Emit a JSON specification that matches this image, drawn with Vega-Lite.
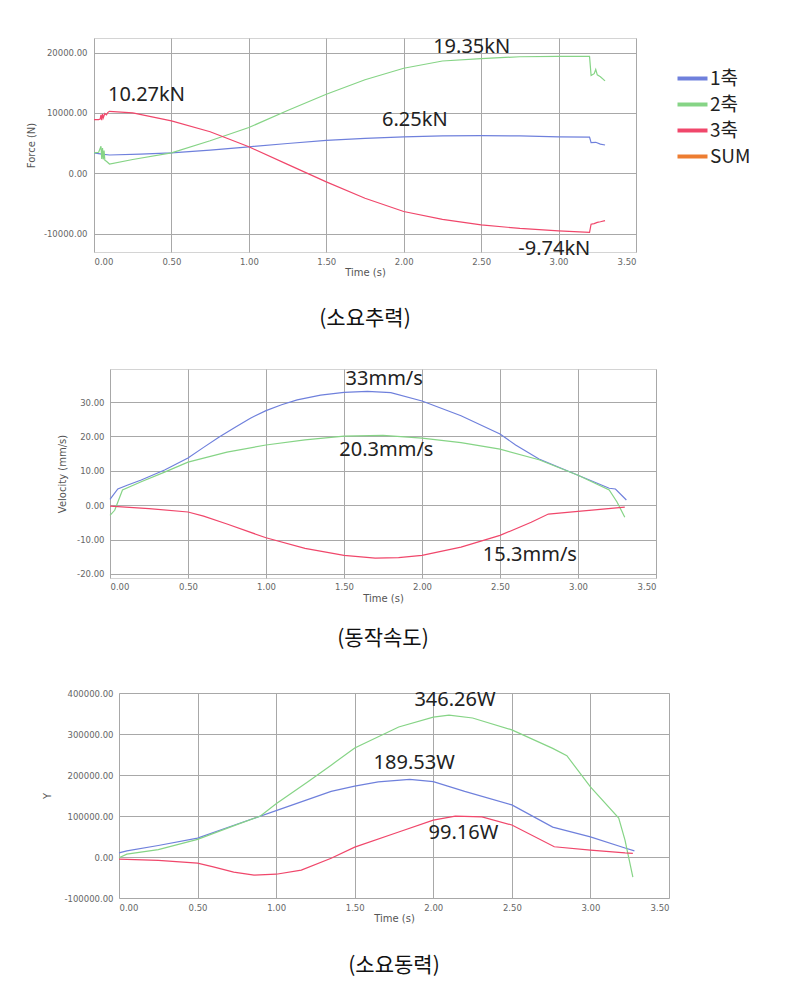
{
  "$schema": "https://vega.github.io/schema/vega-lite/v6.json",
  "background": "white",
  "padding": {"left": 0, "top": 36, "right": 0, "bottom": 0},
  "datasets": {
    "force": [
      {"t":0,"v":3400,"s":"1축"},{"t":0.05,"v":3200,"s":"1축"},{"t":0.1,"v":3050,"s":"1축"},{"t":0.3,"v":3200,"s":"1축"},{"t":0.5,"v":3400,"s":"1축"},{"t":0.75,"v":3850,"s":"1축"},{"t":1.0,"v":4400,"s":"1축"},{"t":1.25,"v":4950,"s":"1축"},{"t":1.5,"v":5450,"s":"1축"},{"t":1.75,"v":5800,"s":"1축"},{"t":2.0,"v":6050,"s":"1축"},{"t":2.25,"v":6200,"s":"1축"},{"t":2.5,"v":6250,"s":"1축"},{"t":2.75,"v":6200,"s":"1축"},{"t":3.0,"v":6050,"s":"1축"},{"t":3.2,"v":6000,"s":"1축"},{"t":3.21,"v":5100,"s":"1축"},{"t":3.24,"v":5150,"s":"1축"},{"t":3.27,"v":4850,"s":"1축"},{"t":3.3,"v":4700,"s":"1축"},
      {"t":0,"v":3400,"s":"2축"},{"t":0.03,"v":3500,"s":"2축"},{"t":0.045,"v":4500,"s":"2축"},{"t":0.05,"v":2400,"s":"2축"},{"t":0.055,"v":4200,"s":"2축"},{"t":0.06,"v":2300,"s":"2축"},{"t":0.065,"v":3800,"s":"2축"},{"t":0.07,"v":2200,"s":"2축"},{"t":0.08,"v":2000,"s":"2축"},{"t":0.1,"v":1550,"s":"2축"},{"t":0.25,"v":2300,"s":"2축"},{"t":0.5,"v":3400,"s":"2축"},{"t":0.75,"v":5400,"s":"2축"},{"t":1.0,"v":7600,"s":"2축"},{"t":1.25,"v":10400,"s":"2축"},{"t":1.5,"v":13100,"s":"2축"},{"t":1.75,"v":15500,"s":"2축"},{"t":2.0,"v":17400,"s":"2축"},{"t":2.25,"v":18600,"s":"2축"},{"t":2.5,"v":19000,"s":"2축"},{"t":2.75,"v":19300,"s":"2축"},{"t":3.0,"v":19350,"s":"2축"},{"t":3.2,"v":19350,"s":"2축"},{"t":3.21,"v":16200,"s":"2축"},{"t":3.23,"v":16500,"s":"2축"},{"t":3.24,"v":17200,"s":"2축"},{"t":3.25,"v":16300,"s":"2축"},{"t":3.27,"v":16000,"s":"2축"},{"t":3.3,"v":15300,"s":"2축"},
      {"t":0,"v":8900,"s":"3축"},{"t":0.03,"v":8900,"s":"3축"},{"t":0.04,"v":9000,"s":"3축"},{"t":0.045,"v":9700,"s":"3축"},{"t":0.05,"v":8800,"s":"3축"},{"t":0.055,"v":9800,"s":"3축"},{"t":0.06,"v":9200,"s":"3축"},{"t":0.07,"v":9900,"s":"3축"},{"t":0.08,"v":9700,"s":"3축"},{"t":0.09,"v":10100,"s":"3축"},{"t":0.1,"v":10270,"s":"3축"},{"t":0.25,"v":10000,"s":"3축"},{"t":0.5,"v":8700,"s":"3축"},{"t":0.75,"v":6900,"s":"3축"},{"t":1.0,"v":4400,"s":"3축"},{"t":1.25,"v":1500,"s":"3축"},{"t":1.5,"v":-1400,"s":"3축"},{"t":1.75,"v":-4100,"s":"3축"},{"t":2.0,"v":-6300,"s":"3축"},{"t":2.25,"v":-7600,"s":"3축"},{"t":2.5,"v":-8500,"s":"3축"},{"t":2.75,"v":-9100,"s":"3축"},{"t":3.0,"v":-9500,"s":"3축"},{"t":3.2,"v":-9740,"s":"3축"},{"t":3.21,"v":-8400,"s":"3축"},{"t":3.23,"v":-8300,"s":"3축"},{"t":3.25,"v":-8100,"s":"3축"},{"t":3.27,"v":-8000,"s":"3축"},{"t":3.3,"v":-7800,"s":"3축"}
    ],
    "forceLabels": [
      {"t":0.09,"v":12950,"label":"10.27kN"},{"t":2.19,"v":20870,"label":"19.35kN"},{"t":1.86,"v":8830,"label":"6.25kN"},{"t":2.74,"v":-12460,"label":"-9.74kN"}
    ],
    "vel": [
      {"t":0,"v":1.7,"s":"1축"},{"t":0.05,"v":4.7,"s":"1축"},{"t":0.11,"v":5.8,"s":"1축"},{"t":0.2,"v":7.3,"s":"1축"},{"t":0.35,"v":10.2,"s":"1축"},{"t":0.5,"v":13.7,"s":"1축"},{"t":0.6,"v":16.8,"s":"1축"},{"t":0.7,"v":19.8,"s":"1축"},{"t":0.8,"v":22.6,"s":"1축"},{"t":0.9,"v":25.3,"s":"1축"},{"t":1.0,"v":27.5,"s":"1축"},{"t":1.1,"v":29.2,"s":"1축"},{"t":1.2,"v":30.6,"s":"1축"},{"t":1.35,"v":32,"s":"1축"},{"t":1.5,"v":32.8,"s":"1축"},{"t":1.65,"v":33.1,"s":"1축"},{"t":1.8,"v":32.7,"s":"1축"},{"t":2.0,"v":30.3,"s":"1축"},{"t":2.25,"v":26,"s":"1축"},{"t":2.5,"v":20.7,"s":"1축"},{"t":2.6,"v":17.5,"s":"1축"},{"t":2.75,"v":13.4,"s":"1축"},{"t":3.0,"v":8.7,"s":"1축"},{"t":3.2,"v":4.9,"s":"1축"},{"t":3.24,"v":4.7,"s":"1축"},{"t":3.31,"v":1.5,"s":"1축"},
      {"t":0,"v":-3,"s":"2축"},{"t":0.03,"v":-1.5,"s":"2축"},{"t":0.08,"v":4.4,"s":"2축"},{"t":0.2,"v":6.8,"s":"2축"},{"t":0.35,"v":9.6,"s":"2축"},{"t":0.5,"v":12.5,"s":"2축"},{"t":0.75,"v":15.4,"s":"2축"},{"t":1.0,"v":17.5,"s":"2축"},{"t":1.25,"v":19,"s":"2축"},{"t":1.5,"v":20.1,"s":"2축"},{"t":1.75,"v":20.3,"s":"2축"},{"t":2.0,"v":19.5,"s":"2축"},{"t":2.25,"v":18.2,"s":"2축"},{"t":2.5,"v":16.3,"s":"2축"},{"t":2.75,"v":13.2,"s":"2축"},{"t":3.0,"v":8.7,"s":"2축"},{"t":3.2,"v":4.4,"s":"2축"},{"t":3.25,"v":0.9,"s":"2축"},{"t":3.3,"v":-3.5,"s":"2축"},
      {"t":0,"v":-0.3,"s":"3축"},{"t":0.25,"v":-1,"s":"3축"},{"t":0.5,"v":-2,"s":"3축"},{"t":0.6,"v":-3.2,"s":"3축"},{"t":0.75,"v":-5.5,"s":"3축"},{"t":1.0,"v":-9.5,"s":"3축"},{"t":1.25,"v":-12.6,"s":"3축"},{"t":1.5,"v":-14.6,"s":"3축"},{"t":1.7,"v":-15.4,"s":"3축"},{"t":1.85,"v":-15.3,"s":"3축"},{"t":2.0,"v":-14.6,"s":"3축"},{"t":2.25,"v":-12.2,"s":"3축"},{"t":2.5,"v":-8.8,"s":"3축"},{"t":2.7,"v":-5,"s":"3축"},{"t":2.81,"v":-2.6,"s":"3축"},{"t":3.0,"v":-1.8,"s":"3축"},{"t":3.3,"v":-0.6,"s":"3축"}
    ],
    "velLabels": [
      {"t":1.51,"v":36.7,"label":"33mm/s"},{"t":1.47,"v":16.0,"label":"20.3mm/s"},{"t":2.39,"v":-14.6,"label":"15.3mm/s"}
    ],
    "pow": [
      {"t":0,"v":10000,"s":"1축"},{"t":0.05,"v":15000,"s":"1축"},{"t":0.25,"v":28000,"s":"1축"},{"t":0.5,"v":46000,"s":"1축"},{"t":0.75,"v":80000,"s":"1축"},{"t":1.0,"v":113000,"s":"1축"},{"t":1.2,"v":140000,"s":"1축"},{"t":1.35,"v":160000,"s":"1축"},{"t":1.5,"v":173000,"s":"1축"},{"t":1.65,"v":183000,"s":"1축"},{"t":1.85,"v":189500,"s":"1축"},{"t":2.0,"v":184000,"s":"1축"},{"t":2.2,"v":160000,"s":"1축"},{"t":2.5,"v":127000,"s":"1축"},{"t":2.76,"v":73000,"s":"1축"},{"t":3.0,"v":49000,"s":"1축"},{"t":3.22,"v":22000,"s":"1축"},{"t":3.28,"v":15000,"s":"1축"},
      {"t":0,"v":-2000,"s":"2축"},{"t":0.05,"v":7000,"s":"2축"},{"t":0.25,"v":18000,"s":"2축"},{"t":0.5,"v":43000,"s":"2축"},{"t":0.75,"v":79000,"s":"2축"},{"t":0.9,"v":100000,"s":"2축"},{"t":1.0,"v":130000,"s":"2축"},{"t":1.2,"v":183000,"s":"2축"},{"t":1.35,"v":224000,"s":"2축"},{"t":1.5,"v":266000,"s":"2축"},{"t":1.78,"v":317000,"s":"2축"},{"t":2.0,"v":341000,"s":"2축"},{"t":2.1,"v":346000,"s":"2축"},{"t":2.25,"v":339000,"s":"2축"},{"t":2.5,"v":310000,"s":"2축"},{"t":2.76,"v":265000,"s":"2축"},{"t":2.85,"v":247000,"s":"2축"},{"t":3.0,"v":171000,"s":"2축"},{"t":3.18,"v":95000,"s":"2축"},{"t":3.22,"v":41000,"s":"2축"},{"t":3.27,"v":-49000,"s":"2축"},
      {"t":0,"v":-5000,"s":"3축"},{"t":0.25,"v":-8000,"s":"3축"},{"t":0.5,"v":-15000,"s":"3축"},{"t":0.6,"v":-24000,"s":"3축"},{"t":0.73,"v":-37000,"s":"3축"},{"t":0.86,"v":-44000,"s":"3축"},{"t":1.0,"v":-42000,"s":"3축"},{"t":1.16,"v":-32000,"s":"3축"},{"t":1.35,"v":-3000,"s":"3축"},{"t":1.5,"v":24000,"s":"3축"},{"t":1.78,"v":61000,"s":"3축"},{"t":2.0,"v":90000,"s":"3축"},{"t":2.14,"v":99500,"s":"3축"},{"t":2.31,"v":98000,"s":"3축"},{"t":2.5,"v":78000,"s":"3축"},{"t":2.77,"v":25000,"s":"3축"},{"t":3.0,"v":17000,"s":"3축"},{"t":3.22,"v":10000,"s":"3축"},{"t":3.27,"v":9000,"s":"3축"}
    ],
    "powLabels": [
      {"t":1.88,"v":383000,"label":"346.26W"},{"t":1.62,"v":229000,"label":"189.53W"},{"t":1.97,"v":58500,"label":"99.16W"}
    ]
  },
  "vconcat": [
    {
      "hconcat": [
        {"width": 25, "height": 1, "data": {"values": []}, "mark": {"type": "point", "opacity": 0}, "view": {"stroke": null}},
        {
          "width": 542, "height": 214,
          "title": {"text": "(소요추력)", "orient": "bottom", "anchor": "middle", "frame": "group", "offset": 30, "font": "Noto Sans CJK KR", "fontSize": 21, "fontWeight": "normal", "color": "#111"},
          "layer": [
            {
              "data": {"name": "force"},
              "mark": {"type": "line"},
              "encoding": {
                "x": {"field": "t", "type": "quantitative", "scale": {"domain": [0, 3.5], "nice": false}, "axis": {"title": "Time (s)", "values": [0,0.5,1,1.5,2,2.5,3,3.5], "format": ".2f", "labelPadding": 5, "titlePadding": 2}},
                "y": {"field": "v", "type": "quantitative", "scale": {"domain": [-13000, 22400], "nice": false, "zero": false}, "axis": {"title": "Force (N)", "values": [-10000,-5000,0,5000,10000,15000,20000], "labelExpr": "(datum.value < 0 ? '-' : '') + format(abs(datum.value), '.2f')", "labelPadding": 7, "titlePadding": 7}},
                "color": {"field": "s", "type": "nominal", "scale": {"domain": ["1축","2축","3축","SUM"], "range": ["#6f80dc","#86d486","#f0476b","#ed7d31"]},
                  "legend": {"orient": "none", "legendX": 589, "legendY": 31, "title": null, "symbolType": "M-3,0H3", "symbolSize": 100, "symbolStrokeWidth": 4, "labelFont": "Noto Sans CJK KR", "labelFontSize": 19, "labelColor": "#222", "labelOffset": 8, "rowPadding": 6,
                    "encode": {"symbols": {"update": {"stroke": {"signal": "datum.value === '1축' ? '#2e75b6' : datum.value === '2축' ? '#00b050' : datum.value === '3축' ? '#ff1a1a' : '#ed7d31'"}, "opacity": {"value": 1}}}}}},
                "strokeWidth": {"field": "s", "type": "nominal", "scale": {"domain": ["1축","2축","3축"], "range": [1.2, 1.2, 2]}, "legend": null}
              }
            },
            {
              "data": {"name": "forceLabels"},
              "mark": {"type": "text", "align": "left", "baseline": "middle", "font": "Noto Sans", "fontSize": 20, "color": "#222"},
              "encoding": {
                "x": {"field": "t", "type": "quantitative"},
                "y": {"field": "v", "type": "quantitative"},
                "text": {"field": "label"}
              }
            }
          ]
        }
      ],
      "spacing": 0, "align": "none",
      "resolve": {"scale": {"color": "independent", "strokeWidth": "independent", "x": "independent", "y": "independent"}}
    },
    {
      "hconcat": [
        {"width": 57, "height": 1, "data": {"values": []}, "mark": {"type": "point", "opacity": 0}, "view": {"stroke": null}},
        {
          "width": 546, "height": 209,
          "title": {"text": "(동작속도)", "orient": "bottom", "anchor": "middle", "frame": "group", "offset": 24, "font": "Noto Sans CJK KR", "fontSize": 21, "fontWeight": "normal", "color": "#111"},
          "layer": [
            {
              "data": {"name": "vel"},
              "mark": {"type": "line"},
              "encoding": {
                "x": {"field": "t", "type": "quantitative", "scale": {"domain": [0, 3.5], "nice": false}, "axis": {"title": "Time (s)", "values": [0,0.5,1,1.5,2,2.5,3,3.5], "format": ".2f", "labelPadding": 4, "titlePadding": 3}},
                "y": {"field": "v", "type": "quantitative", "scale": {"domain": [-21.2, 39.6], "nice": false, "zero": false}, "axis": {"title": "Velocity (mm/s)", "values": [-20,-10,0,10,20,30], "labelExpr": "(datum.value < 0 ? '-' : '') + format(abs(datum.value), '.2f')", "labelPadding": 6, "titlePadding": 9}},
                "color": {"field": "s", "type": "nominal", "scale": {"domain": ["1축","2축","3축"], "range": ["#6f80dc","#86d486","#f0476b"]}, "legend": null},
                "strokeWidth": {"field": "s", "type": "nominal", "scale": {"domain": ["1축","2축","3축"], "range": [1.2, 1.2, 2]}, "legend": null}
              }
            },
            {
              "data": {"name": "velLabels"},
              "mark": {"type": "text", "align": "left", "baseline": "middle", "font": "Noto Sans", "fontSize": 20, "color": "#222"},
              "encoding": {
                "x": {"field": "t", "type": "quantitative"},
                "y": {"field": "v", "type": "quantitative"},
                "text": {"field": "label"}
              }
            }
          ]
        }
      ],
      "spacing": 0, "align": "none",
      "resolve": {"scale": {"color": "independent", "strokeWidth": "independent", "x": "independent", "y": "independent"}}
    },
    {
      "hconcat": [
        {"width": 42, "height": 1, "data": {"values": []}, "mark": {"type": "point", "opacity": 0}, "view": {"stroke": null}},
        {
          "width": 550, "height": 205,
          "title": {"text": "(소요동력)", "orient": "bottom", "anchor": "middle", "frame": "group", "offset": 31, "font": "Noto Sans CJK KR", "fontSize": 21, "fontWeight": "normal", "color": "#111"},
          "layer": [
            {
              "data": {"name": "pow"},
              "mark": {"type": "line"},
              "encoding": {
                "x": {"field": "t", "type": "quantitative", "scale": {"domain": [0, 3.5], "nice": false}, "axis": {"title": "Time (s)", "values": [0,0.5,1,1.5,2,2.5,3,3.5], "format": ".2f", "labelPadding": 5, "titlePadding": 2}},
                "y": {"field": "v", "type": "quantitative", "scale": {"domain": [-100000, 400000], "nice": false, "zero": false}, "axis": {"title": "Y", "values": [-100000,0,100000,200000,300000,400000], "labelExpr": "(datum.value < 0 ? '-' : '') + format(abs(datum.value), '.2f')", "labelPadding": 6, "titlePadding": 11}},
                "color": {"field": "s", "type": "nominal", "scale": {"domain": ["1축","2축","3축"], "range": ["#6f80dc","#86d486","#f0476b"]}, "legend": null},
                "strokeWidth": {"field": "s", "type": "nominal", "scale": {"domain": ["1축","2축","3축"], "range": [1.2, 1.2, 2]}, "legend": null}
              }
            },
            {
              "data": {"name": "powLabels"},
              "mark": {"type": "text", "align": "left", "baseline": "middle", "font": "Noto Sans", "fontSize": 20, "color": "#222"},
              "encoding": {
                "x": {"field": "t", "type": "quantitative"},
                "y": {"field": "v", "type": "quantitative"},
                "text": {"field": "label"}
              }
            }
          ]
        }
      ],
      "spacing": 0, "align": "none",
      "resolve": {"scale": {"color": "independent", "strokeWidth": "independent", "x": "independent", "y": "independent"}}
    }
  ],
  "spacing": 39,
  "align": "none",
  "resolve": {"scale": {"color": "independent", "strokeWidth": "independent", "x": "independent", "y": "independent"}},
  "config": {
    "view": {"stroke": "#d4d4d4"},
    "axis": {"labelFont": "DejaVu Sans", "labelFontSize": 8.5, "labelColor": "#666", "titleFont": "DejaVu Sans", "titleFontSize": 10, "titleFontWeight": "normal", "titleColor": "#555", "gridColor": "#a8a8a8", "gridOpacity": 1, "gridWidth": 1, "domain": false, "ticks": false}
  }
}
